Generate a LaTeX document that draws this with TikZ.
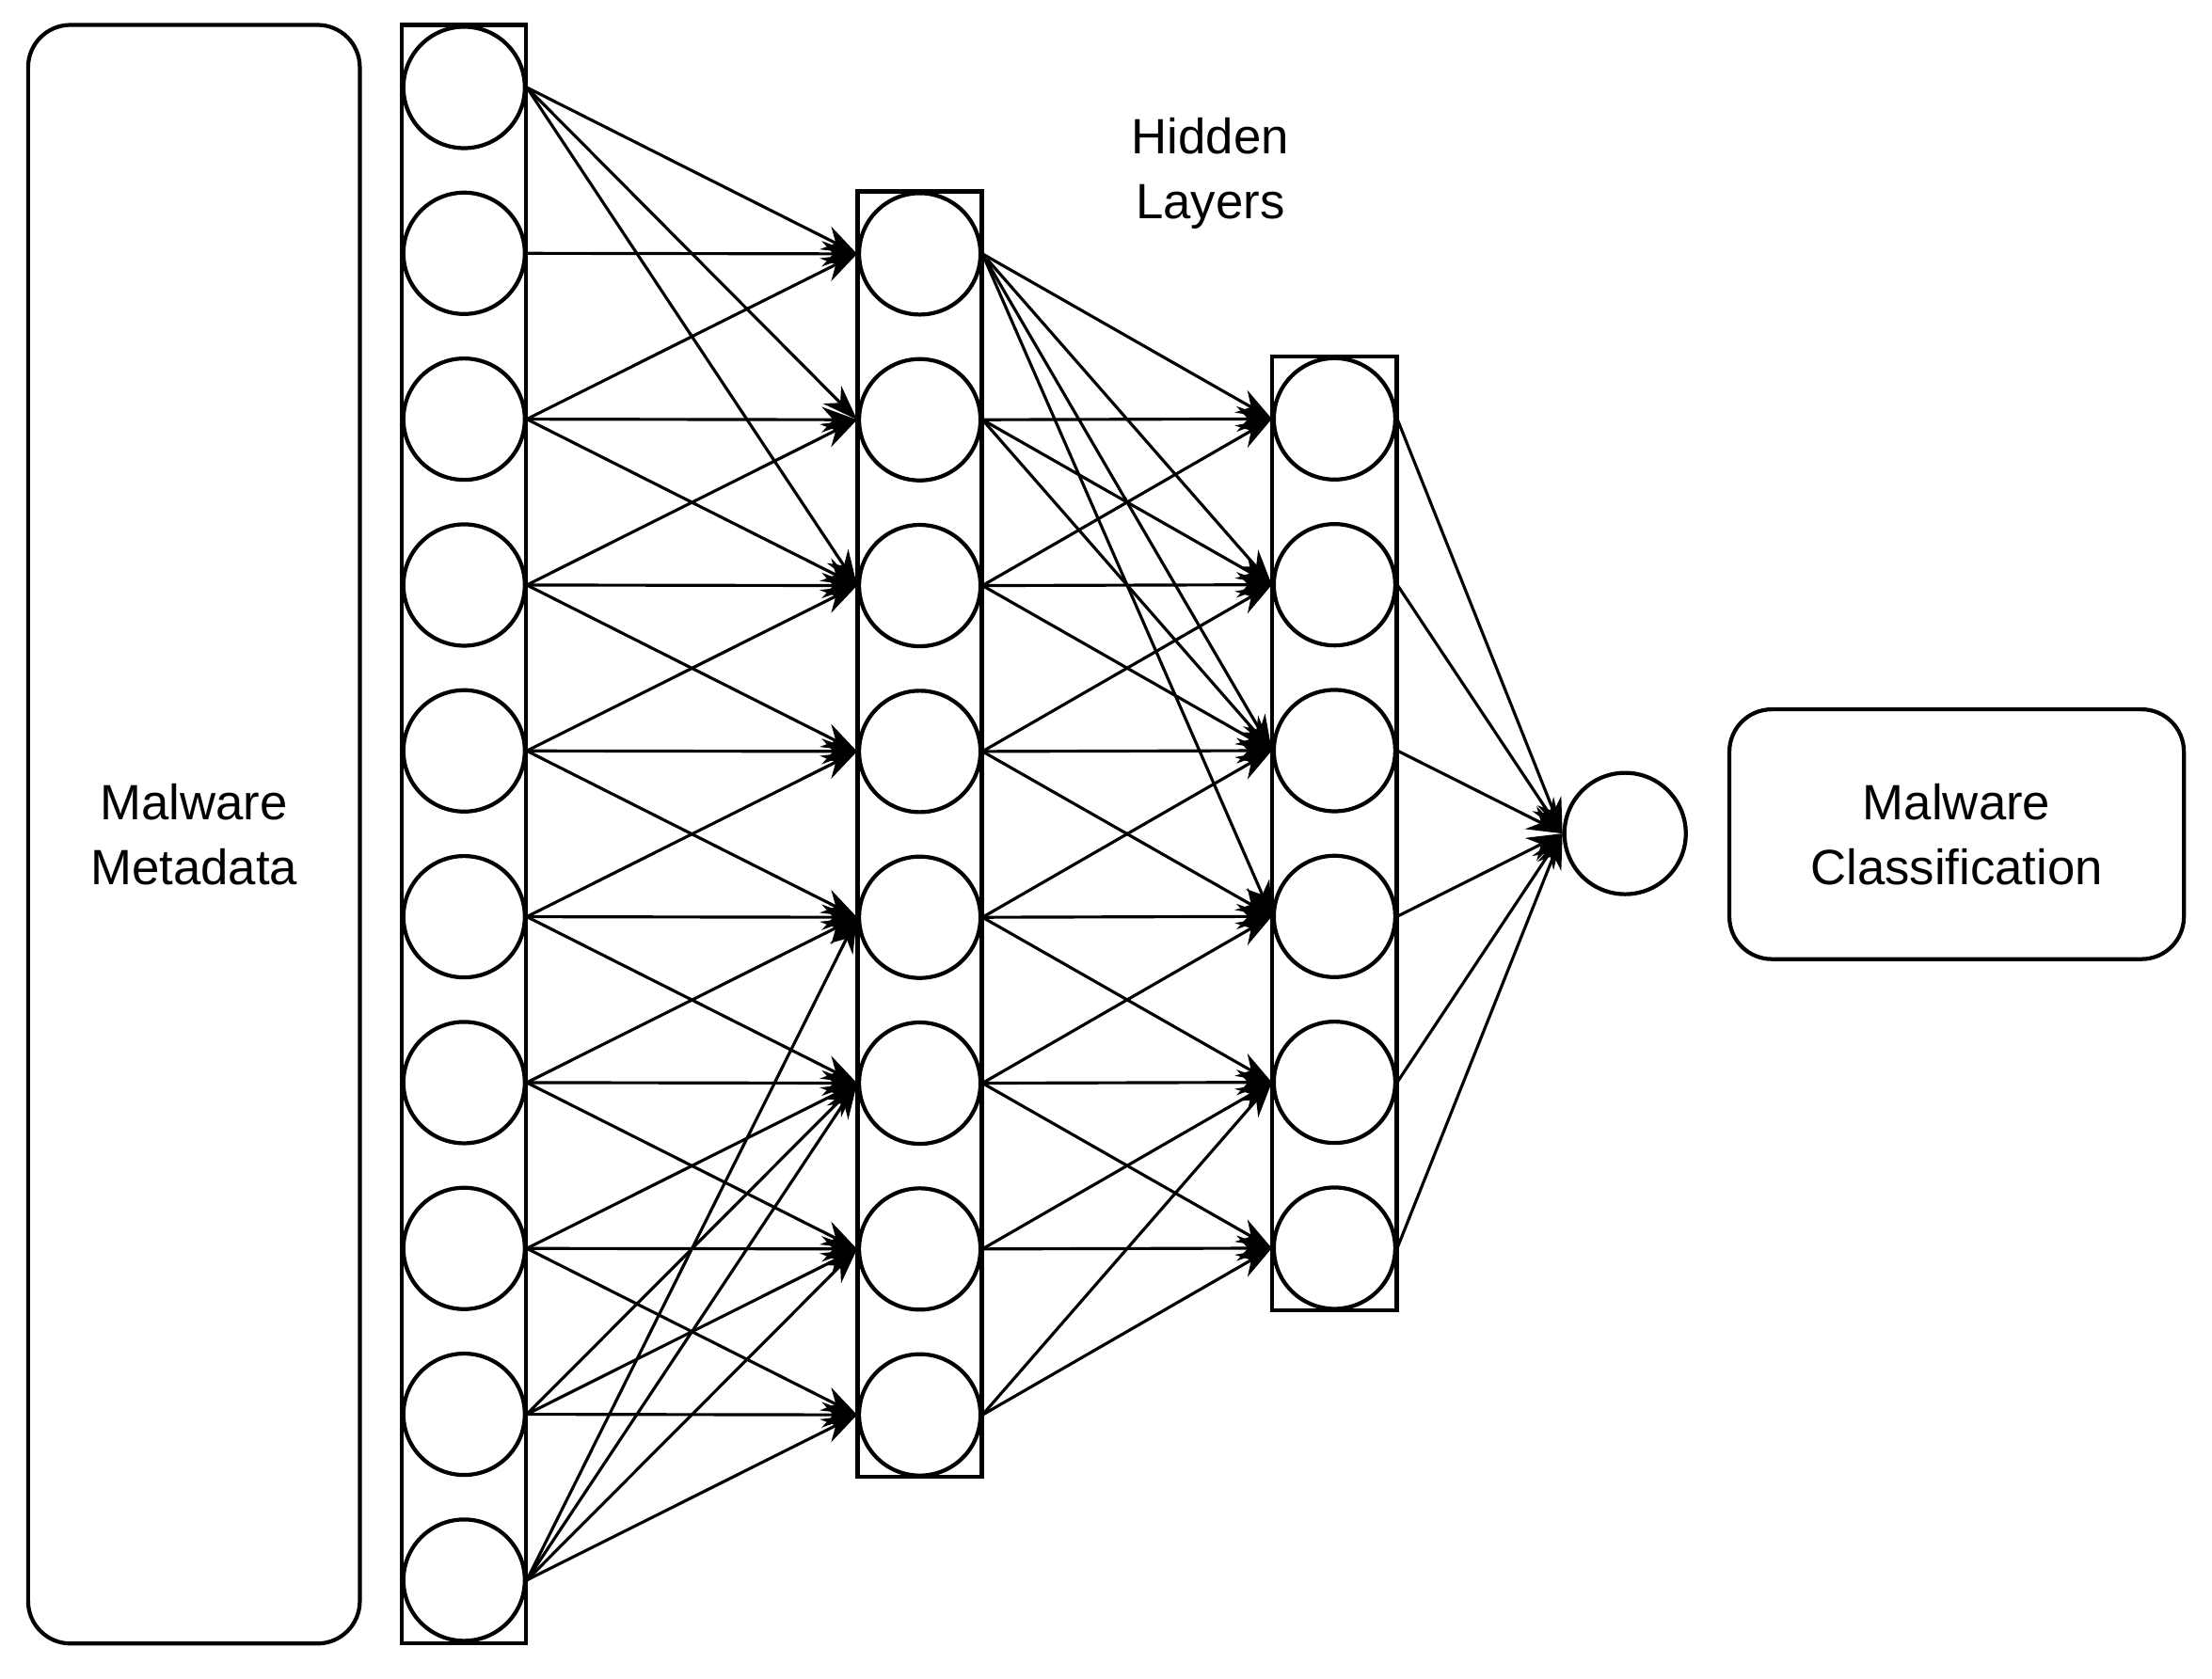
\documentclass[tikz,border=0pt]{standalone}
\usepackage{fontspec}
\setmainfont{Liberation Sans}
\usetikzlibrary{arrows.meta}
\begin{document}
\begin{tikzpicture}[x=0.01cm,y=-0.01cm,
  neu/.style={circle,draw,line width=0.8pt,minimum size=0.86cm,inner sep=0pt},
  lay/.style={draw,line width=0.8pt},
  rb/.style={draw,line width=0.8pt,rounded corners=0.3cm,align=center,font=\fontsize{10}{13}\selectfont},
  con/.style={-{Stealth[length=0.25cm,width=0.18cm]},line width=0.6pt}]
\useasboundingbox (0,0) rectangle (1568,1190);
\node[rb,minimum width=2.35cm,minimum height=11.47cm] (meta) at (137.5,591.5) {Malware\\Metadata};
\node[rb,minimum width=3.22cm,minimum height=1.77cm] (cls) at (1387,591.5) {Malware\\Classification};
\node[align=center,font=\fontsize{10}{13}\selectfont] (hid) at (858,123) {Hidden\\Layers};
\node[lay,minimum width=0.88cm,minimum height=11.47cm] (b1) at (329,591.5) {};
\node[lay,minimum width=0.88cm,minimum height=9.11cm] (b2) at (652,591.5) {};
\node[lay,minimum width=0.88cm,minimum height=6.76cm] (b3) at (946,591) {};
\foreach \i in {0,...,9} \node[neu] (a\i) at (329,62+117.6*\i) {};
\foreach \j in {0,...,7} \node[neu] (h\j) at (652,180+117.6*\j) {};
\foreach \k in {0,...,5} \node[neu] (g\k) at (946,297+117.6*\k) {};
\node[neu] (o) at (1152,591) {};
% input -> hidden 1
\foreach \i/\j in {0/0,0/1,0/2,1/0,2/0,2/1,2/2,3/1,3/2,3/3,4/2,4/3,4/4,5/3,5/4,5/5,6/4,6/5,6/6,7/5,7/6,7/7,8/5,8/6,8/7,9/4,9/5,9/6,9/7}
  \draw[con] (a\i.east) -- (h\j.west);
% hidden 1 -> hidden 2
\foreach \j/\k in {0/0,0/1,0/2,0/3,1/0,1/1,1/2,2/0,2/1,2/2,3/1,3/2,3/3,4/2,4/3,4/4,5/3,5/4,5/5,6/4,6/5,7/4,7/5}
  \draw[con] (h\j.east) -- (g\k.west);
\foreach \k in {0,...,5} \draw[con] (g\k.east) -- (o.west);
\end{tikzpicture}
\end{document}
